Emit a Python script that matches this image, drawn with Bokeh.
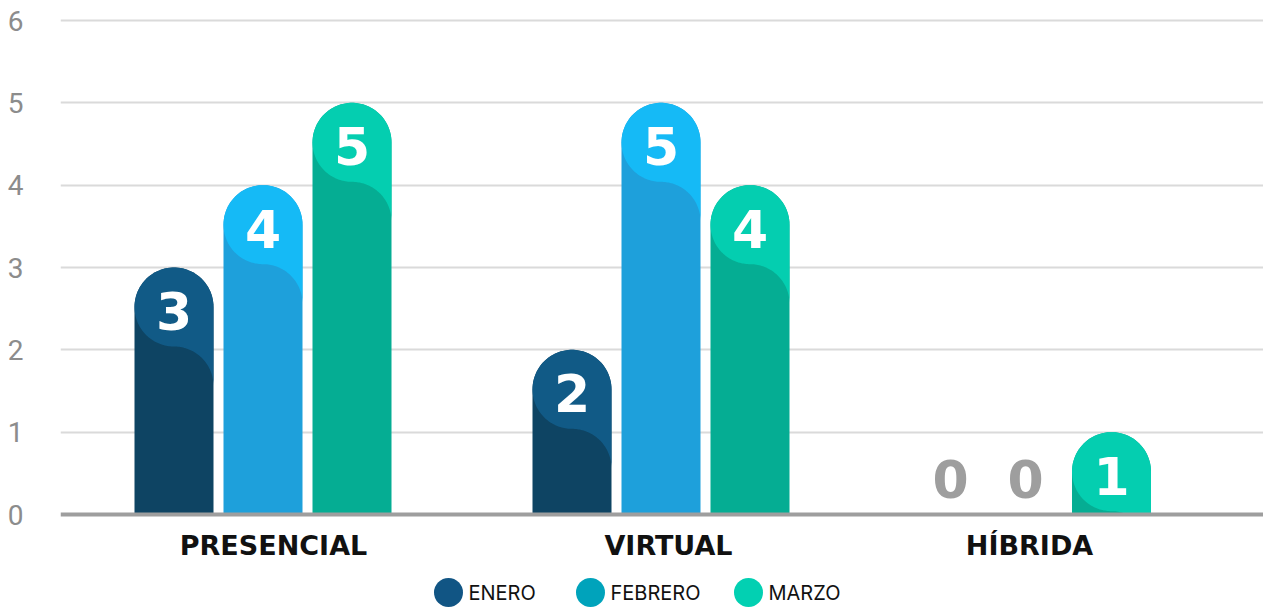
import numpy as np
from bokeh.plotting import figure
from bokeh.models import Range1d, FixedTicker, Span, ColumnDataSource
from bokeh.core.properties import value
from bokeh.embed import file_html
from bokeh.resources import INLINE

# ---------------- data ----------------
categories = ["PRESENCIAL", "VIRTUAL", "HÍBRIDA"]
series_names = ["ENERO", "FEBRERO", "MARZO"]
enero = [3, 2, 0]
febrero = [4, 5, 0]
marzo = [5, 4, 1]
y_ticks = [0, 1, 2, 3, 4, 5, 6]

# ---------------- styles ----------------
top_colors = ["#115A86", "#15BAF6", "#04CEB0"]
body_colors = ["#0E4463", "#1EA0DB", "#05AD93"]
legend_colors = ["#115584", "#00A3BB", "#02D0B2"]
zero_color = "#9E9E9E"

# ---------------- geometry (figure px) ----------------
W, H = 1263, 607
B_LEFT, B_RIGHT, B_TOP, B_BOTTOM = 60, 0, 6, 0
PPU_Y = (514 - 20) / 6.0
ZERO_PX = 514            # zero line, from figure top
PPU_X = 398.0
G0_PX = 262.5            # first group centre, from figure left

y_start = -(H - ZERO_PX) / PPU_Y
y_end = (ZERO_PX - B_TOP) / PPU_Y
x_start = (B_LEFT - G0_PX) / PPU_X
x_end = (W - B_RIGHT - G0_PX) / PPU_X


def dx(px):
    return px / PPU_X


def dy(px):
    return px / PPU_Y


bar_offsets_px = [[-89, 0, 89], [-89, 0, 89], [-108.5, -33.5, 52.5]]
cat_label_dx_px = [10.5, 7.5, -29.5]
BAR_W_PX = 79.0
rx, ry = dx(BAR_W_PX / 2), dy(BAR_W_PX / 2)

p = figure(width=W, height=H, output_backend="svg", toolbar_location=None,
           x_range=Range1d(x_start, x_end), y_range=Range1d(y_start, y_end),
           min_border_left=B_LEFT, min_border_right=B_RIGHT,
           min_border_top=B_TOP, min_border_bottom=B_BOTTOM)
p.outline_line_color = None
p.background_fill_color = "white"
p.border_fill_color = "white"
p.xaxis.visible = False
p.xgrid.visible = False

p.yaxis.ticker = FixedTicker(ticks=y_ticks)
p.yaxis.axis_line_color = None
p.yaxis.major_tick_line_color = None
p.yaxis.minor_tick_line_color = None
p.yaxis.major_label_standoff = 31
p.yaxis.major_label_text_font = "Roboto"
p.yaxis.major_label_text_font_size = "28px"
p.yaxis.major_label_text_color = "#8C8C8C"
p.ygrid.ticker = FixedTicker(ticks=y_ticks[1:])
p.ygrid.grid_line_color = "#DADADA"
p.ygrid.grid_line_width = 2


def arc(cx, cy, t0, t1, n=48):
    t = np.linspace(t0, t1, n)
    return list(cx + rx * np.cos(t)), list(cy + ry * np.sin(t))


values = [enero, febrero, marzo]
sil_xs, sil_ys, sil_c = [], [], []
lit_xs, lit_ys, lit_c = [], [], []
lab_x, lab_y, lab_t, lab_c = [], [], [], []

for si, vals in enumerate(values):
    for gi, v in enumerate(vals):
        cx = gi + dx(bar_offsets_px[gi][si])
        cy = max(v, 2 * ry) - ry
        lab_x.append(cx)
        lab_y.append(cy)
        lab_t.append(str(v))
        lab_c.append("white" if v > 0 else zero_color)
        if v <= 0:
            continue
        # silhouette (body colour)
        ax, ay = arc(cx, cy, np.pi, 0)
        sil_xs.append([cx - rx] + ax + [cx + rx])
        sil_ys.append([0] + ay + [0])
        sil_c.append(body_colors[si])
        # lighter top part
        a1x, a1y = arc(cx, cy, np.pi, 0)
        a2x, a2y = arc(cx, cy - 2 * ry, 0, np.pi / 2)
        a3x, a3y = arc(cx, cy, 1.5 * np.pi, np.pi)
        lit_xs.append(a1x + a2x + a3x)
        lit_ys.append([max(t, 0) for t in (a1y + a2y + a3y)])
        lit_c.append(top_colors[si])

p.patches(sil_xs, sil_ys, fill_color=sil_c, line_color=None)
p.patches(lit_xs, lit_ys, fill_color=lit_c, line_color=None)

p.add_layout(Span(location=0, dimension="width", line_color="#9E9E9E", line_width=4))

lab_src = ColumnDataSource(dict(x=lab_x, y=lab_y, t=lab_t, c=lab_c))
p.text("x", "y", text="t", source=lab_src, text_color="c", text_align="center",
       text_baseline="middle", text_font=value("DejaVu Sans"), text_font_style="bold",
       text_font_size="52px", y_offset=4)

# category labels
cat_src = ColumnDataSource(dict(
    x=[i + dx(cat_label_dx_px[i]) for i in range(len(categories))],
    y=[-dy(31)] * len(categories), t=categories))
p.text("x", "y", text="t", source=cat_src, text_color="#111111", text_align="center",
       text_baseline="middle", text_font=value("DejaVu Sans"), text_font_style="bold",
       text_font_size="27px")

# legend
leg_px = [448, 590, 748]
leg_x = [dx(v - G0_PX) for v in leg_px]
leg_y = [-dy(78)] * len(series_names)
p.scatter(leg_x, leg_y, size=29, fill_color=legend_colors, line_color=None)
leg_src = ColumnDataSource(dict(x=[v + dx(20) for v in leg_x], y=leg_y, t=series_names))
p.text("x", "y", text="t", source=leg_src, text_color="#111111", text_align="left",
       text_baseline="middle", text_font=value("Inter"),
       text_font_size="20px")

open("out.html", "w").write(file_html(p, INLINE))
